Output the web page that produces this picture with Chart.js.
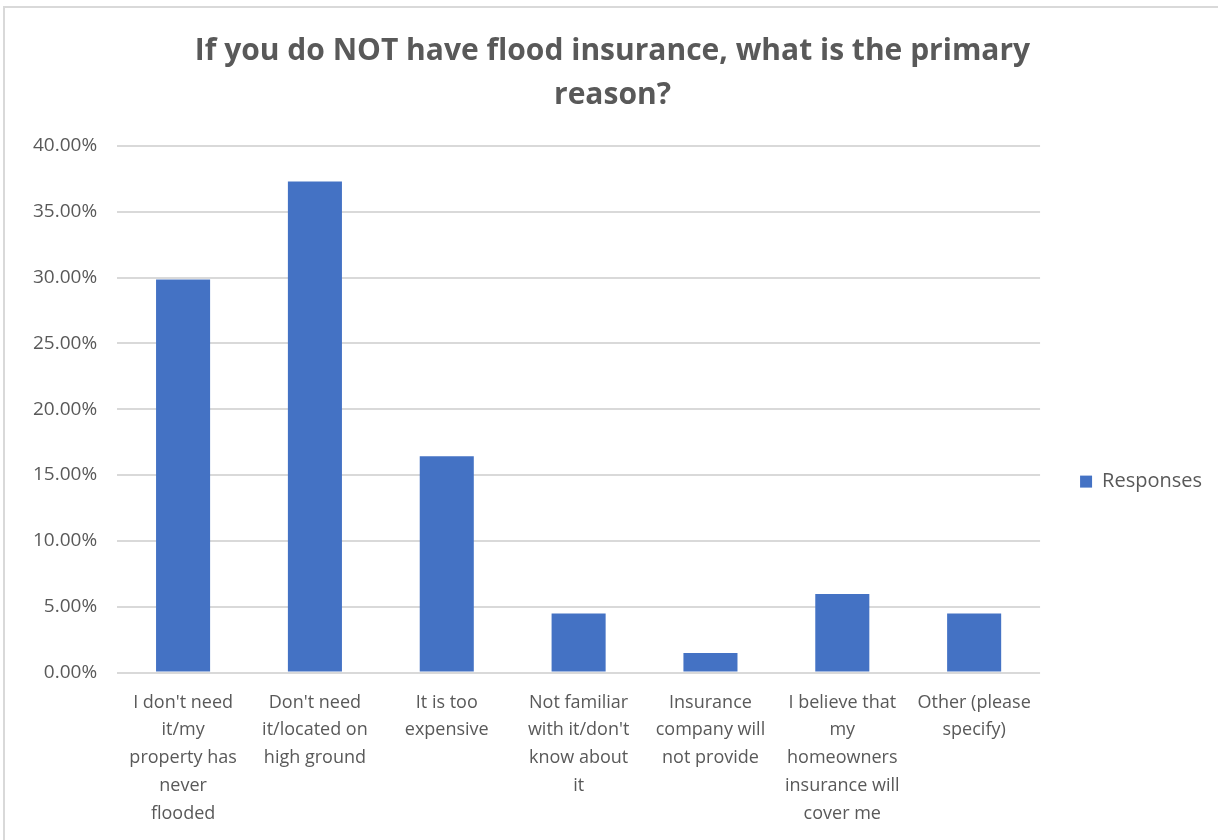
<!DOCTYPE html>
<html>
<head>
<meta charset="utf-8">
<script src="https://cdn.jsdelivr.net/npm/chart.js@4"></script>
<style>
  html, body { margin: 0; padding: 0; background: #fff; }
  #wrap { position: relative; width: 1218px; height: 840px; overflow: hidden; }
  #frame { position: absolute; left: 3px; top: 6px; width: 1300px; height: 900px;
           border-left: 2px solid #d9d9d9; border-top: 2px solid #d9d9d9; }
  canvas { position: absolute; left: 0; top: 0; }
</style>
</head>
<body>
<div id="wrap">
  <div id="frame"></div>
  <canvas id="myChart" width="1218" height="840"></canvas>
</div>
<script>
// Data
const CATEGORIES = [
  ["I don't need", "it/my", "property has", "never", "flooded"],
  ["Don't need", "it/located on", "high ground"],
  ["It is too", "expensive"],
  ["Not familiar", "with it/don't", "know about", "it"],
  ["Insurance", "company will", "not provide"],
  ["I believe that", "my", "homeowners", "insurance will", "cover me"],
  ["Other (please", "specify)"]
];
const RESPONSES = [29.85, 37.31, 16.42, 4.48, 1.49, 5.97, 4.48];
const Y_TICKS = [0, 5, 10, 15, 20, 25, 30, 35, 40];
const TITLE = ["If you do NOT have flood insurance, what is the primary", "reason?"];

const TEXT_COLOR = '#595959';
const GRID_COLOR = '#d9d9d9';
const BAR_COLOR = '#4472C4';

const ctx = document.getElementById('myChart');
const chart = new Chart(ctx, {
  type: 'bar',
  data: {
    labels: CATEGORIES,
    datasets: [{
      label: 'Responses',
      data: RESPONSES,
      backgroundColor: BAR_COLOR,
      categoryPercentage: 1,
      barPercentage: 0.41
    }]
  },
  options: {
    responsive: false,
    animation: false,
    layout: { padding: { left: 13, right: 6, top: 0, bottom: 4 } },
    plugins: {
      title: {
        display: true,
        text: TITLE,
        color: TEXT_COLOR,
        font: { family: 'Open Sans', size: 30, weight: 'bold', lineHeight: 1.45 },
        padding: { top: 30, bottom: 29 }
      },
      legend: {
        position: 'right',
        title: { display: true, text: ' ', padding: { top: 120, bottom: 0 }, font: { size: 6 } },
        labels: {
          color: TEXT_COLOR,
          boxWidth: 12,
          boxHeight: 12,
          padding: 10,
          font: { family: 'Open Sans', size: 20 }
        }
      },
      tooltip: { enabled: false }
    },
    scales: {
      x: {
        grid: { display: false },
        border: { display: false },
        ticks: {
          color: TEXT_COLOR,
          maxRotation: 0,
          autoSkip: false,
          padding: 8,
          font: { family: 'Open Sans', size: 18, lineHeight: 1.55 }
        }
      },
      y: {
        min: 0,
        max: 40,
        border: { display: false },
        grid: { color: GRID_COLOR, lineWidth: 2, drawTicks: false },
        afterBuildTicks: (scale) => { scale.ticks = Y_TICKS.map(v => ({ value: v })); },
        ticks: {
          color: TEXT_COLOR,
          padding: 20,
          font: { family: 'Open Sans', size: 19 },
          callback: (v) => v.toFixed(2) + '%'
        }
      },
      gap: {
        position: 'right',
        display: true,
        grid: { display: false },
        border: { display: false },
        ticks: { display: false },
        afterFit: (scale) => { scale.width = 30; }
      }
    }
  }
});
</script>
</body>
</html>
